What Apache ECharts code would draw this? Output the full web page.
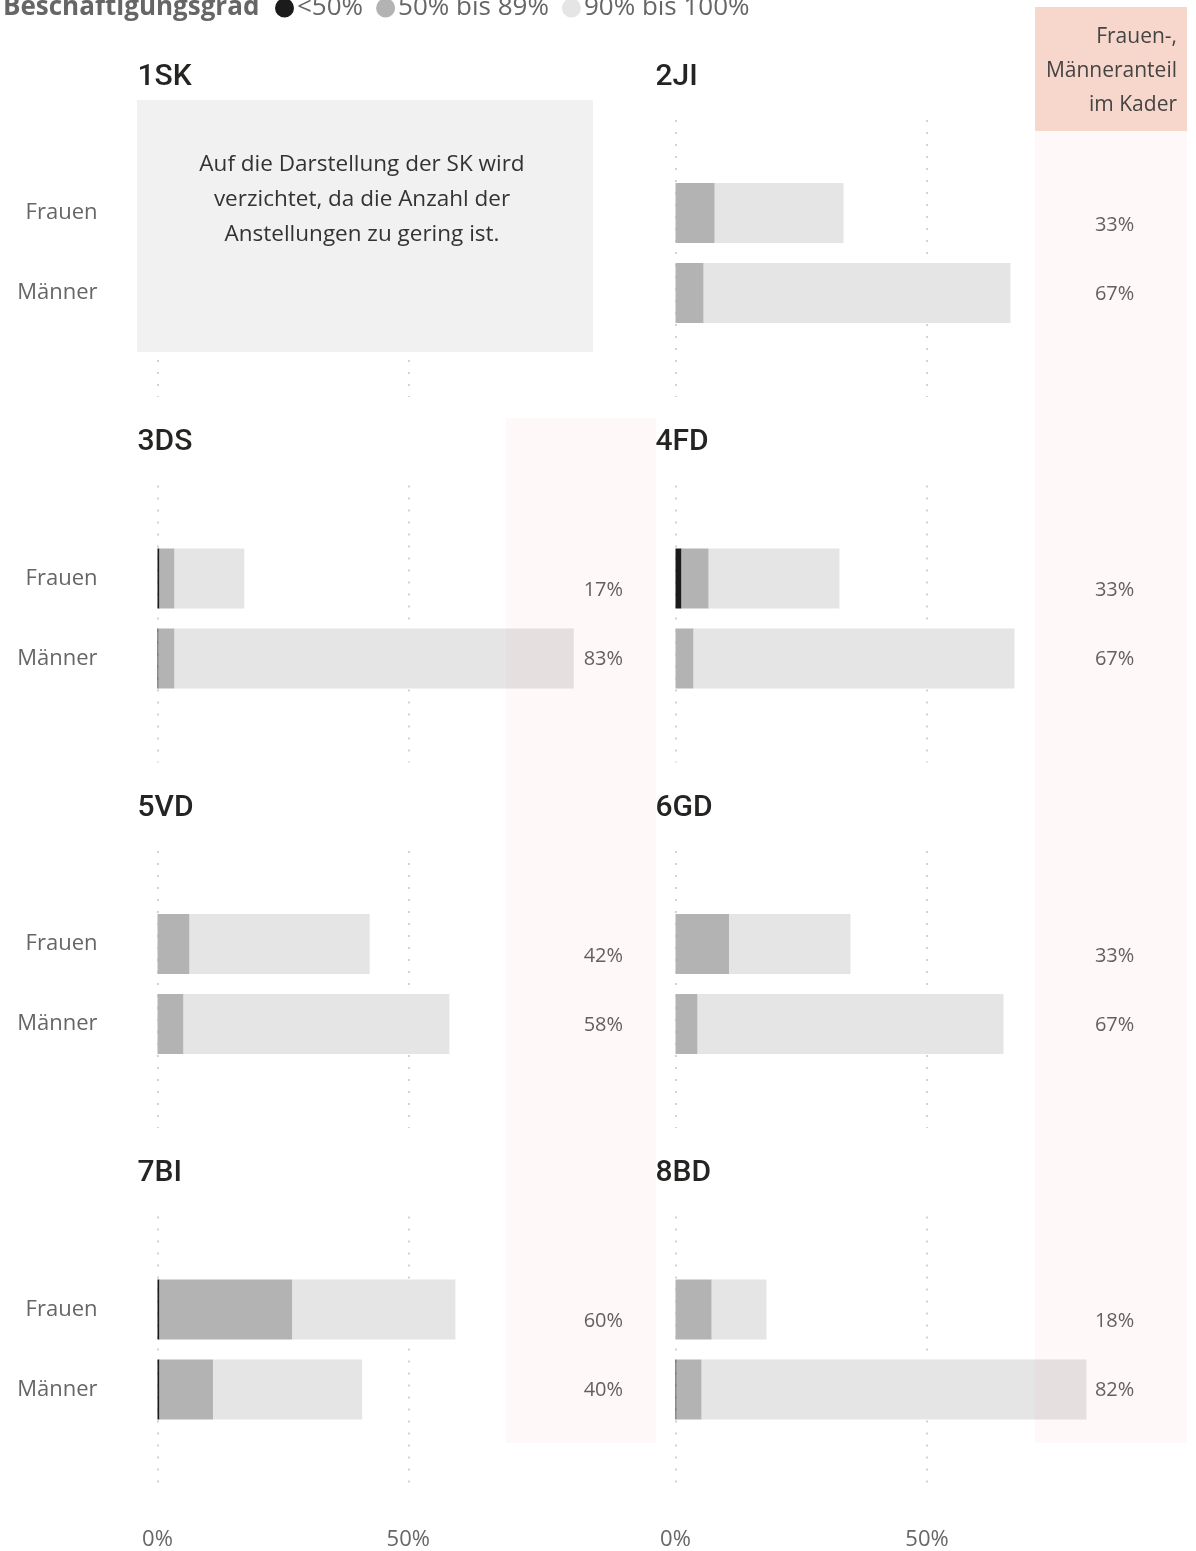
<!DOCTYPE html>
<html>
<head>
<meta charset="utf-8">
<script src="https://cdn.jsdelivr.net/npm/echarts@6/dist/echarts.min.js"></script>
<style>
html,body{margin:0;padding:0;background:#fff;}
#chart{width:1196px;height:1551px;}
</style>
</head>
<body>
<div id="chart"></div>
<script>
// ---------- DATA ----------
const panels = ['1SK', '2JI', '3DS', '4FD', '5VD', '6GD', '7BI', '8BD'];
const categories = ['Frauen', 'Männer'];
const legendNames = ['<50%', '50% bis 89%', '90% bis 100%'];
// share of all staff (%) per panel; 1SK not shown
const lowFrauen  = [null, 0,    0.4,  1.2,  0,    0,    0.4,  0];
const lowMaenner = [null, 0,    0.2,  0,    0,    0,    0.4,  0.2];
const midFrauen  = [null, 7.8,  3.0,  5.4,  6.4,  10.7, 26.5, 7.2];
const midMaenner = [null, 5.6,  3.2,  3.6,  5.2,  4.4,  10.7, 5.0];
const highFrauen = [null, 25.6, 13.9, 26.0, 35.9, 24.1, 32.5, 10.9];
const highMaenner= [null, 61.0, 79.6, 63.8, 53.0, 60.8, 29.7, 76.5];
const shareFrauen  = [null, 33, 17, 33, 42, 33, 60, 18];
const shareMaenner = [null, 67, 83, 67, 58, 67, 40, 82];
const noteText = 'Auf die Darstellung der SK wird\nverzichtet, da die Anzahl der\nAnstellungen zu gering ist.';
const headerText = 'Frauen-,\nMänneranteil\nim Kader';

// ---------- STYLE / LAYOUT ----------
const FONT = '"Open Sans", "Noto Sans", sans-serif';
const colors = ['#1b1b1b', '#b3b3b3', '#e5e5e5'];
const colX0 = [157.5, 675.5];
const colW100 = [501.5, 503];
const labelX = [88.9, 87.3];
const titleY0 = 75, rowStep = 365.5;

const grids = [], xAxes = [], yAxes = [], series = [], graphics = [];

panels.forEach((p, i) => {
  const col = i % 2, row = Math.floor(i / 2);
  const ty = titleY0 + row * rowStep;
  // grid-line grid
  const lg = grids.length;
  grids.push({left: colX0[col], top: ty + 45, width: colW100[col] / 2, height: 277, containLabel: false});
  xAxes.push({
    gridIndex: lg, type: 'value', min: 0, max: 50, interval: 50,
    axisLine: {show: false}, axisTick: {show: false},
    axisLabel: {show: row === 3, margin: 44, fontSize: 22, color: '#666', fontFamily: FONT, formatter: '{value}%'},
    splitLine: {show: true, lineStyle: {type: [2, 10], width: 1.5, color: '#c4c4c4'}}
  });
  yAxes.push({gridIndex: lg, type: 'category', data: categories, show: false});
  series.push({type: 'bar', xAxisIndex: lg, yAxisIndex: lg, data: [], silent: true});

  // bar grid
  const bg = grids.length;
  grids.push({left: colX0[col], top: ty + 98, width: colW100[col], height: 160});
  xAxes.push({gridIndex: bg, type: 'value', min: 0, max: 100, show: false});
  yAxes.push({
    gridIndex: bg, type: 'category', data: categories, inverse: true,
    axisLine: {show: false}, axisTick: {show: false}, splitLine: {show: false},
    axisLabel: {show: col === 0, margin: 60, fontSize: 22, color: '#666', fontFamily: FONT}
  });
  const stacks = [[lowFrauen, lowMaenner], [midFrauen, midMaenner], [highFrauen, highMaenner]];
  if (i !== 0) {
    stacks.forEach((s, k) => {
      series.push({
        name: legendNames[k], type: 'bar', stack: 'p' + i, xAxisIndex: bg, yAxisIndex: bg,
        barWidth: 60, itemStyle: {color: colors[k]}, emphasis: {disabled: true},
        data: [s[0][i], s[1][i]]
      });
    });
    series.push({
      type: 'scatter', xAxisIndex: bg, yAxisIndex: bg, symbolSize: 1,
      itemStyle: {color: 'rgba(0,0,0,0)'}, silent: true, z: 20,
      label: {show: true, position: 'inside', fontSize: 20, color: '#333', fontFamily: FONT,
        formatter: d => d.value[2] + '%'},
      data: [
        {value: [labelX[col], 'Frauen', shareFrauen[i]], label: {offset: [0, 12]}},
        {value: [labelX[col], 'Männer', shareMaenner[i]], label: {offset: [0, 1]}}
      ]
    });
  }
  // panel title
  graphics.push({
    type: 'text', x: colX0[col] - 20, y: ty + 2, z: 10,
    style: {text: p, font: '500 30px Roboto, sans-serif', fill: '#252423', textVerticalAlign: 'middle'}
  });
});

// 1SK note box
graphics.push({type: 'rect', shape: {x: 137, y: 100, width: 456, height: 252}, style: {fill: '#f1f1f1'}, z: 50, silent: true});
graphics.push({type: 'text', x: 362, y: 200, z: 51, silent: true,
  style: {text: noteText, font: '22.5px ' + FONT, fill: '#333', textAlign: 'center', textVerticalAlign: 'middle', lineHeight: 35}});
// share columns
graphics.push({type: 'rect', shape: {x: 506, y: 418, width: 150, height: 1025}, style: {fill: 'rgba(230,150,130,0.06)'}, z: 60, silent: true});
graphics.push({type: 'rect', shape: {x: 1035, y: 131, width: 152, height: 1312}, style: {fill: 'rgba(230,150,130,0.06)'}, z: 60, silent: true});
graphics.push({type: 'rect', shape: {x: 1035, y: 7, width: 152, height: 124}, style: {fill: '#f7d7cc'}, z: 60, silent: true});
graphics.push({type: 'text', x: 1177, y: 71, z: 61, silent: true,
  style: {text: headerText, font: '21px ' + FONT, fill: '#444', textAlign: 'right', textVerticalAlign: 'middle', lineHeight: 34}});

const chart = echarts.init(document.getElementById('chart'), null, {renderer: 'canvas'});
chart.setOption({
  animation: false,
  backgroundColor: '#fff',
  title: {text: 'Beschäftigungsgrad', left: -2, top: -10,
    textStyle: {fontSize: 26, fontWeight: 'bold', color: '#666', fontFamily: FONT}},
  legend: {
    data: legendNames, left: 270, top: -10, icon: 'circle', itemWidth: 19, itemHeight: 19, itemGap: 13,
    textStyle: {fontSize: 26, color: '#666', fontFamily: FONT, padding: [0, 0, 0, -2]}
  },
  grid: grids, xAxis: xAxes, yAxis: yAxes, series: series, graphic: graphics
});
</script>
</body>
</html>
